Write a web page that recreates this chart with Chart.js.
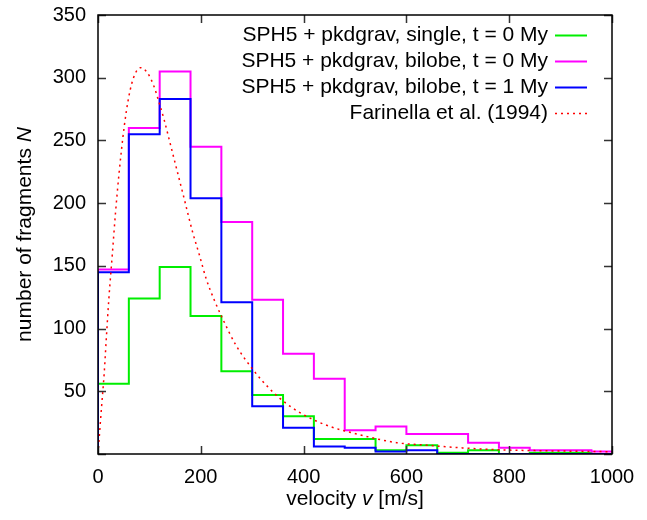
<!DOCTYPE html>
<html>
<head>
<meta charset="utf-8">
<script src="https://cdn.jsdelivr.net/npm/chart.js@4/dist/chart.umd.min.js"></script>
<style>
  html, body { margin: 0; padding: 0; background: #fff; }
  canvas { display: block; }
</style>
</head>
<body>
<canvas id="chart" width="647" height="520"></canvas>
<script>
// bin edges of the velocity histograms [m/s]
const velEdges = [0, 60, 120, 180, 240, 300, 360, 420, 480, 540, 600, 660, 720, 780, 840, 900, 960, 1020];

// fragment counts per bin
const singleT0 = [56, 124, 149, 110, 66, 47, 30, 12, 12, 3, 7, 1, 3, 0, 1, 1, 0];
const bilobeT0 = [147, 260, 305, 245, 185, 123, 80, 60, 19, 22, 16, 16, 9, 5, 3, 3, 2];
const bilobeT1 = [145, 255, 283, 204, 121, 38, 21, 6, 5, 2, 3, 0, 0, 0, 0, 0, 0];

// Farinella et al. (1994) curve
const farVel = [0, 2, 7, 12, 16, 21, 28, 34, 41, 51, 60, 70, 83, 96, 109, 119, 129, 142, 155, 168,
  184, 197, 211, 227, 240, 268, 302, 334, 367, 406, 451, 503, 581, 640, 704, 776, 850, 925, 1000];
const farN = [0, 11, 38, 64, 91, 123, 160, 192, 224, 261, 285, 301, 308, 304, 293, 280, 266, 245, 224, 203,
  177, 159, 139, 122, 110, 87, 67, 52, 40, 30, 22, 16, 9, 7, 5, 3.4, 2.7, 2.2, 1.8];

const seriesLabels = [
  'SPH5 + pkdgrav, single, t = 0 My',
  'SPH5 + pkdgrav, bilobe, t = 0 My',
  'SPH5 + pkdgrav, bilobe, t = 1 My',
  'Farinella et al. (1994)',
];

const FONT = '"Liberation Sans", Arial, Helvetica, sans-serif';
const TICK_FS = 20;
const TEXT_FS = 21;

// histogram -> points for a stepped line
function histPoints(vals) {
  const pts = [{ x: velEdges[0], y: 0 }];
  vals.forEach((v, i) => pts.push({ x: velEdges[i], y: v }));
  pts.push({ x: velEdges[vals.length], y: vals[vals.length - 1] });
  return pts;
}

function mixedText(ctx, parts, x, y) {
  // parts: [text, italic]; centred on x
  const widths = parts.map(([t, it]) => {
    ctx.font = (it ? 'italic ' : '') + TEXT_FS + 'px ' + FONT;
    return ctx.measureText(t).width;
  });
  let cx = x - widths.reduce((a, b) => a + b, 0) / 2;
  parts.forEach(([t, it], i) => {
    ctx.font = (it ? 'italic ' : '') + TEXT_FS + 'px ' + FONT;
    ctx.fillText(t, cx, y);
    cx += widths[i];
  });
}

const gnuplotLook = {
  id: 'gnuplotLook',
  afterDatasetsDraw(chart) {
    const { ctx, chartArea: a, scales } = chart;
    ctx.save();
    // inward ticks, mirrored
    ctx.strokeStyle = '#333';
    ctx.lineWidth = 1.5;
    ctx.beginPath();
    scales.x.ticks.forEach(t => {
      const px = Math.round(scales.x.getPixelForValue(t.value)) + 0.5;
      ctx.moveTo(px, a.bottom); ctx.lineTo(px, a.bottom - 8);
      ctx.moveTo(px, a.top); ctx.lineTo(px, a.top + 8);
    });
    scales.y.ticks.forEach(t => {
      const py = Math.round(scales.y.getPixelForValue(t.value)) + 0.5;
      ctx.moveTo(a.left, py); ctx.lineTo(a.left + 8, py);
      ctx.moveTo(a.right, py); ctx.lineTo(a.right - 8, py);
    });
    ctx.stroke();
    // frame
    ctx.strokeStyle = '#000';
    ctx.lineWidth = 1.5;
    ctx.strokeRect(a.left, a.top, a.right - a.left, a.bottom - a.top);

    // tick labels
    ctx.fillStyle = '#000';
    ctx.font = TICK_FS + 'px ' + FONT;
    ctx.textBaseline = 'middle';
    ctx.textAlign = 'center';
    scales.x.ticks.forEach(t => {
      ctx.fillText(String(t.value), scales.x.getPixelForValue(t.value), a.bottom + 23);
    });
    ctx.textAlign = 'right';
    scales.y.ticks.forEach(t => {
      if (t.value === 0) return;
      ctx.fillText(String(t.value), a.left - 12, scales.y.getPixelForValue(t.value));
    });

    // axis titles
    ctx.textAlign = 'left';
    mixedText(ctx, [['velocity ', false], ['v', true], [' [m/s]', false]], (a.left + a.right) / 2, a.bottom + 45);
    ctx.save();
    ctx.translate(25, (a.top + a.bottom) / 2);
    ctx.rotate(-Math.PI / 2);
    mixedText(ctx, [['number of fragments ', false], ['N', true]], 0, 0);
    ctx.restore();

    // key
    const rowY = [35, 61, 87, 113];
    chart.data.datasets.forEach((ds, i) => {
      const y = rowY[i];
      ctx.font = TEXT_FS + 'px ' + FONT;
      ctx.textAlign = 'right';
      ctx.fillStyle = '#000';
      ctx.fillText(ds.label, 548, y);
      ctx.strokeStyle = ds.borderColor;
      ctx.lineWidth = ds.borderWidth;
      ctx.setLineDash(ds.borderDash || []);
      ctx.beginPath();
      ctx.moveTo(555, y + 0.5);
      ctx.lineTo(587, y + 0.5);
      ctx.stroke();
      ctx.setLineDash([]);
    });
    ctx.restore();
  }
};

new Chart(document.getElementById('chart'), {
  type: 'line',
  data: {
    datasets: [
      {
        label: seriesLabels[0],
        data: histPoints(singleT0),
        stepped: 'before',
        borderColor: '#00ee00',
        borderWidth: 2,
        pointRadius: 0,
        order: 3,
      },
      {
        label: seriesLabels[1],
        data: histPoints(bilobeT0),
        stepped: 'before',
        borderColor: '#ff00ff',
        borderWidth: 2,
        pointRadius: 0,
        order: 2,
      },
      {
        label: seriesLabels[2],
        data: histPoints(bilobeT1),
        stepped: 'before',
        borderColor: '#0000ff',
        borderWidth: 2,
        pointRadius: 0,
        order: 1,
      },
      {
        label: seriesLabels[3],
        data: farVel.map((v, i) => ({ x: v, y: farN[i] })),
        borderColor: '#ff0000',
        borderWidth: 1.5,
        borderDash: [2, 4],
        cubicInterpolationMode: 'monotone',
        pointRadius: 0,
        order: 0,
      },
    ],
  },
  options: {
    responsive: false,
    animation: false,
    events: [],
    layout: { padding: { top: 15, right: 35, left: 0, bottom: 0 } },
    plugins: {
      legend: { display: false },
      tooltip: { enabled: false },
    },
    scales: {
      x: {
        type: 'linear',
        min: 0,
        max: 1000,
        ticks: { stepSize: 200, display: false },
        grid: { display: false },
        border: { display: false },
        afterFit: s => { s.height = 66; },
      },
      y: {
        min: 0,
        max: 350,
        ticks: { stepSize: 50, display: false },
        grid: { display: false },
        border: { display: false },
        afterFit: s => { s.width = 98; },
      },
    },
  },
  plugins: [gnuplotLook],
});
</script>
</body>
</html>
